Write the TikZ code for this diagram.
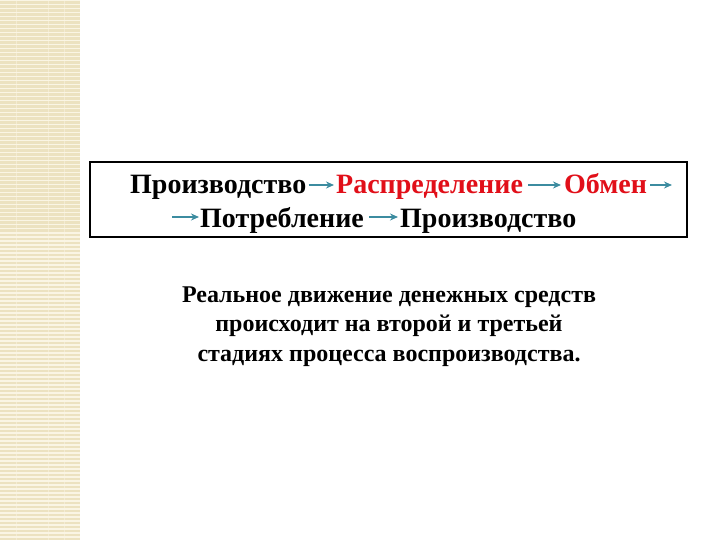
\documentclass[tikz,border=0pt]{standalone}
\usepackage{fontspec}
\setmainfont{Liberation Serif}
\usetikzlibrary{arrows.meta}
\definecolor{stripbg}{RGB}{236,226,192}
\definecolor{stripln}{RGB}{250,245,228}
\definecolor{arrteal}{RGB}{60,140,160}
\definecolor{wordred}{RGB}{225,15,25}

\begin{document}
\begin{tikzpicture}[x=1pt,y=-1pt]
            \tikzset{
            word/.style={inner sep=0,anchor=base west,font=\fontsize{28}{34}\selectfont\bfseries},
            redword/.style={word,text=wordred},
            flow/.style={-{Stealth[length=8pt,width=7pt]},arrteal,line width=1.6pt}
            }
            \useasboundingbox (0,0) rectangle (720,540);
            % left strip
            \fill[stripbg] (0,0) rectangle (80,540);
            \foreach \y in {0,4,...,536}
              \fill[stripln] (0,\y) rectangle (80,\y+1.5);
            \foreach \x in {16,48,64}
              \fill[stripln,opacity=0.5] (\x,0) rectangle (\x+1,540);
            % frame
            \draw[line width=2pt] (90,162) rectangle (687,237);
            % words
            \node[word] (w1) at (130,194) {Производство};
            \node[redword] (w2) at (336,194) {Распределение};
            \node[redword] (w3) at (564,194) {Обмен};
            \node[word] (w4) at (200,227) {Потребление};
            \node[word] (w5) at (400,227) {Производство};
            \coordinate (e1) at (672,185);
            \coordinate (s4) at (172,217);
            
            \path
            ([shift={(2,-9)}]w1.base east) edge[flow] ([shift={(-2,-9)}]w2.base west)
            ([shift={(5,-9)}]w2.base east) edge[flow] ([shift={(-3,-9)}]w3.base west)
            ([shift={(3,-9)}]w3.base east) edge[flow] (e1)
            (s4) edge[flow] ([shift={(-1,-10)}]w4.base west)
            ([shift={(5,-10)}]w4.base east) edge[flow] ([shift={(-2,-10)}]w5.base west)
            ;
            % note
            \node[align=center,inner sep=0,anchor=base,font=\fontsize{24}{29.5}\selectfont\bfseries] (note) at (389,361)
            {Реальное движение денежных средств\\происходит на второй и третьей\\стадиях процесса воспроизводства.};
        \end{tikzpicture}
\end{document}
